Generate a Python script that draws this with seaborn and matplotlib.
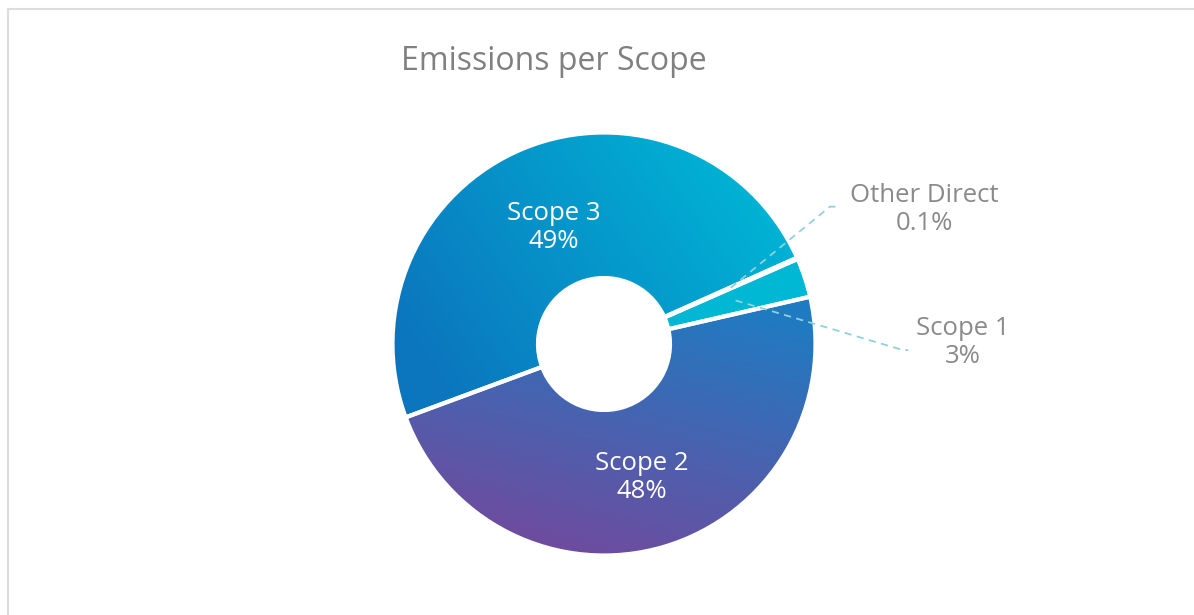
import numpy as np
import matplotlib
matplotlib.use("Agg")
import matplotlib.pyplot as plt
from matplotlib.lines import Line2D
import seaborn as sns

# Datos del gráfico
labels = ["Scope 3", "Other Direct", "Scope 1", "Scope 2"]
values = [49, 0.1, 3, 48]
pct_labels = ["49%", "0.1%", "3%", "48%"]
title = "Emissions per Scope"

sns.set_theme(style="white")
plt.rcParams["font.family"] = ["Open Sans", "DejaVu Sans"]

W, H = 1194, 615
fig = plt.figure(figsize=(W / 100, H / 100), dpi=100)
ax = fig.add_axes([0, 0, 1, 1])

# centro y radio del donut en pixeles
cx, cy, R = 604, 344, 210
r_out = 1 + 1.5 / R
r_in = 67.5 / R - 1.5 / R

flat = ["#0790c8", "#ffffff", "#00b8d4", "#3f69b4"]
wedges, _ = ax.pie(values, startangle=200.3, counterclock=False, radius=r_out,
                   colors=flat, wedgeprops=dict(width=r_out - r_in, linewidth=0))

# degradados por porcion
xx, yy = np.meshgrid(np.linspace(-1.05, 1.05, 700), np.linspace(-1.05, 1.05, 700))
grads = {
    0: (35, -0.75, 1.1, sns.blend_palette(["#0b76be", "#00b6d6"], as_cmap=True)),
    3: (75, -1.0, 0.35, sns.blend_palette(["#6e4c9f", "#1f7bc2"], as_cmap=True)),
}
for i, (ang, lo, hi, cmap) in grads.items():
    a = np.deg2rad(ang)
    t = xx * np.cos(a) + yy * np.sin(a)
    im = ax.imshow(t, origin="lower", extent=(-1.05, 1.05, -1.05, 1.05), cmap=cmap,
                   vmin=lo, vmax=hi, aspect="auto", zorder=2)
    im.set_clip_path(wedges[i])

# bordes blancos encima
ax.pie(values, startangle=200.3, counterclock=False, radius=r_out,
       colors=["none"] * 4,
       wedgeprops=dict(width=r_out - r_in, linewidth=3, edgecolor="white", zorder=5))

dy = -0.03  # ajuste vertical del texto

# etiquetas internas
for i in (0, 3):
    w = wedges[i]
    mid = np.deg2rad((w.theta1 + w.theta2) / 2)
    ax.text(0.63 * np.cos(mid), 0.63 * np.sin(mid) + dy, f"{labels[i]}\n{pct_labels[i]}",
            ha="center", va="center", color="white", fontsize=18.5, linespacing=1.15, zorder=6)

# etiquetas externas con lineas guia
lead = "#8fd3d9"
outside = {1: ((1.076, 0.654), (1.124, 0.654), (1.524, 0.650)),
           2: ((1.424, -0.029), (1.448, -0.029), (1.710, 0.017))}
for i, (elbow, end, txt) in outside.items():
    w = wedges[i]
    mid = np.deg2rad((w.theta1 + w.theta2) / 2)
    sx, sy = 0.66 * np.cos(mid), 0.66 * np.sin(mid)
    ax.plot([sx, elbow[0], end[0]], [sy, elbow[1], end[1]], color=lead, lw=1.3,
            ls=(0, (4, 3)), zorder=7)
    ax.text(txt[0], txt[1] + dy + 0.02, f"{labels[i]}\n{pct_labels[i]}", ha="center",
            va="center", color="#8a8a8a", fontsize=18.5, linespacing=1.15, zorder=6)

ax.set_xlim(-cx / R, (W - cx) / R)
ax.set_ylim((cy - H) / R, cy / R)
ax.set_aspect("auto")
ax.axis("off")

fig.text(554 / W, 1 - 62 / H, title, ha="center", va="center", color="#808080", fontsize=23)

# marco gris
fig.add_artist(Line2D([7.5 / W, 7.5 / W], [0, 1 - 8.5 / H], transform=fig.transFigure,
                      color="#dddddd", lw=1.5))
fig.add_artist(Line2D([7.5 / W, 1], [1 - 8.5 / H, 1 - 8.5 / H], transform=fig.transFigure,
                      color="#dddddd", lw=1.5))

fig.savefig("out.png", dpi=100)
